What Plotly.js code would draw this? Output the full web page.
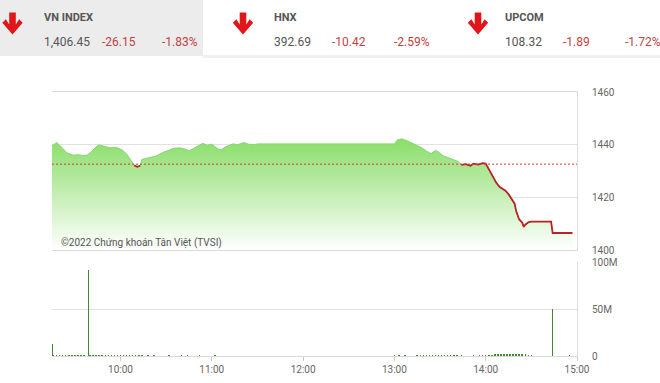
<!DOCTYPE html>
<html>
<head>
<meta charset="utf-8">
<script src="https://cdn.plot.ly/plotly-3.0.1.min.js"></script>
<style>
  html, body { margin: 0; padding: 0; background: #fff; }
  #chart { width: 660px; height: 383px; }
</style>
</head>
<body>
<div id="chart"></div>
<script>
// ---------------- DATA ----------------
const DATE = '2022-04-14';
const REF_CLOSE = 1432.6;

const indexNames = ['VN INDEX', 'HNX', 'UPCOM'];
const indexValues = ['1,406.45', '392.69', '108.32'];
const indexChanges = ['-26.15', '-10.42', '-1.89'];
const indexPercents = ['-1.83%', '-2.59%', '-1.72%'];

const priceTimes = [
  '09:15','09:16','09:18','09:20','09:23','09:25','09:29','09:32','09:35','09:38',
  '09:41','09:44','09:46','09:49','09:53','09:57','10:01','10:04','10:07','10:09',
  '10:11','10:13','10:14','10:18','10:23','10:27','10:31','10:35','10:39','10:43',
  '10:45','10:49','10:54','10:57','11:00','11:04','11:06','11:09','11:14','11:17',
  '11:21','11:24','11:28','11:30','13:00','13:02','13:05','13:08','13:13','13:18',
  '13:21','13:24','13:27','13:29','13:32','13:36','13:40','13:42','13:44','13:47',
  '13:50','13:52','13:55','13:58','14:00','14:02','14:04','14:07','14:09','14:11',
  '14:13','14:15','14:17','14:19','14:20','14:21','14:22','14:24','14:25','14:26',
  '14:28','14:30','14:43','14:44','14:57'
];
const priceValues = [
  1439.5,1440.0,1440.8,1439.8,1438.0,1436.8,1436.0,1436.2,1435.9,1436.0,
  1437.4,1439.2,1439.9,1439.4,1438.8,1439.0,1438.0,1436.5,1434.0,1432.2,
  1431.6,1432.0,1434.4,1435.0,1435.6,1436.8,1437.8,1438.6,1438.8,1438.2,
  1437.6,1439.0,1440.5,1439.8,1440.2,1438.4,1438.0,1439.2,1440.3,1440.0,
  1440.8,1440.2,1440.0,1440.3,1440.3,1441.8,1442.2,1441.6,1440.2,1438.8,
  1437.6,1436.6,1437.8,1437.2,1435.8,1434.9,1434.2,1433.6,1432.3,1432.6,
  1432.0,1432.8,1432.4,1433.0,1432.8,1430.6,1428.5,1425.5,1424.0,1423.4,
  1422.5,1421.2,1419.5,1417.6,1414.8,1413.0,1411.6,1410.4,1408.8,1409.6,
  1410.5,1410.8,1410.8,1406.45,1406.45
];

const volTimes = [
  '09:15','09:16','09:18','09:20','09:22','09:24','09:26','09:28','09:30','09:32',
  '09:34','09:36','09:39','09:40','09:42','09:44','09:46','09:48','09:50','09:52',
  '09:54','09:56','09:58','10:00','10:02','10:04','10:06','10:08','10:10','10:12',
  '10:14','10:18','10:22','10:27','10:32','10:36','10:40','10:44','10:48','10:52',
  '10:57','11:02','11:07','11:14','11:22','11:28','13:00','13:03','13:07','13:11',
  '13:15','13:17','13:19','13:21','13:23','13:25','13:27','13:29','13:31','13:33',
  '13:35','13:37','13:39','13:41','13:44','13:47','13:52','13:56','13:58','14:00',
  '14:02','14:04','14:06','14:08','14:10','14:12','14:14','14:16','14:18','14:20',
  '14:22','14:24','14:26','14:28','14:30','14:44','14:53','14:55'
];
const volValuesM = [
  12.5,1.5,1.2,1.0,1.3,0.9,1.1,0.8,1.0,0.9,
  0.7,0.8,91.5,1.0,0.8,0.6,0.9,0.7,0.8,1.0,
  0.9,1.1,0.8,1.2,1.0,1.3,1.4,1.6,1.5,1.2,
  0.9,0.6,0.7,0.5,0.6,0.5,0.7,0.6,0.5,0.6,
  0.5,0.6,0.4,0.5,0.4,0.5,0.8,0.6,0.7,0.5,
  0.9,0.8,1.0,0.9,1.1,1.0,1.2,0.9,1.1,1.0,
  0.8,1.0,0.9,0.8,0.6,0.5,0.6,1.0,1.2,1.4,
  1.6,1.5,1.8,2.2,2.0,2.6,2.4,2.0,2.2,1.9,
  2.3,2.1,1.8,1.6,1.2,50.0,0.5,0.6
];

const priceTickVals = [1400, 1420, 1440, 1460];
const volTickVals = [0, 50, 100];
const volTickText = ['0', '50M', '100M'];

// ---------------- HELPERS ----------------
const W = 660, H = 383;
const px = x => x / W;
const py = y => 1 - y / H;

const priceX = priceTimes.map(t => DATE + ' ' + t);
const redY = priceValues.map(v => (v <= REF_CLOSE + 0.5 ? v : null));
const volX = volTimes.map(t => DATE + ' ' + t);
const volY = volValuesM.map(v => v * 1e6);

function arrowPath(cx) {
  const pts = [
    [cx - 3.3, 12.5], [cx + 3.3, 12.5], [cx + 3.3, 24.5], [cx + 6.6, 19.2],
    [cx + 10.2, 22.8], [cx, 34.5], [cx - 10.2, 22.8], [cx - 6.6, 19.2], [cx - 3.3, 24.5]
  ];
  return 'M' + pts.map(p => px(p[0]).toFixed(5) + ',' + py(p[1]).toFixed(5)).join(' L') + ' Z';
}

// ---------------- TRACES ----------------
const traces = [
  {
    type: 'scatter', mode: 'lines', x: priceX, y: priceValues,
    xaxis: 'x', yaxis: 'y',
    line: { color: '#86d672', width: 1 },
    fill: 'tozeroy',
    fillgradient: {
      type: 'vertical', start: 1400, stop: 1442,
      colorscale: [[0, 'rgb(255,255,255)'], [1, 'rgb(138,222,106)']]
    },
    hoverinfo: 'skip'
  },
  {
    type: 'scatter', mode: 'lines', x: priceX, y: redY,
    xaxis: 'x', yaxis: 'y',
    line: { color: '#bb2228', width: 1.8 },
    connectgaps: false, hoverinfo: 'skip'
  },
  {
    type: 'bar', x: volX, y: volY, xaxis: 'x2', yaxis: 'y2',
    width: 60000,
    marker: { color: '#3f8a2e', line: { width: 0 } },
    hoverinfo: 'skip'
  }
];

// ---------------- LAYOUT ----------------
const xDomain = [px(52), px(577)];
const gridCol = '#e2e2e2';
const lineCol = '#dcdcdc';
const tickFont = { family: 'Roboto', size: 10, color: '#666' };

const shapes = [
  { type: 'rect', xref: 'paper', yref: 'paper', x0: 0, x1: px(203), y0: py(56), y1: 1,
    fillcolor: '#ececec', line: { width: 0 }, layer: 'below' },
  { type: 'rect', xref: 'paper', yref: 'paper', x0: px(203), x1: 1, y0: py(58), y1: py(55),
    fillcolor: '#f0f0f0', line: { width: 0 }, layer: 'below' },
  { type: 'line', xref: 'x domain', yref: 'y', x0: 0, x1: 1, y0: REF_CLOSE, y1: REF_CLOSE,
    line: { color: '#d23c3c', width: 1, dash: '2px,2px' } }
];
[12.5, 243, 478].forEach(cx => {
  shapes.push({ type: 'path', xref: 'paper', yref: 'paper', path: arrowPath(cx),
    fillcolor: '#e0161b', line: { width: 0 } });
});

const nameX = [43, 273, 504];
const changeX = [101, 331, 562];
const pctX = [161, 393, 624];
const annotations = [];
indexNames.forEach((n, i) => {
  annotations.push({ xref: 'paper', yref: 'paper', x: px(nameX[i] - 1), y: py(17), xanchor: 'left', yanchor: 'middle',
    text: '<b>' + n + '</b>', showarrow: false, font: { family: 'Roboto', size: 11, color: '#555' } });
  annotations.push({ xref: 'paper', yref: 'paper', x: px(nameX[i] - 1), y: py(42), xanchor: 'left', yanchor: 'middle',
    text: indexValues[i], showarrow: false, font: { family: 'Roboto', size: 12, color: '#555' } });
  annotations.push({ xref: 'paper', yref: 'paper', x: px(changeX[i] - 1), y: py(42), xanchor: 'left', yanchor: 'middle',
    text: indexChanges[i], showarrow: false, font: { family: 'Roboto', size: 12, color: '#c4413f' } });
  annotations.push({ xref: 'paper', yref: 'paper', x: px(pctX[i] - 1), y: py(42), xanchor: 'left', yanchor: 'middle',
    text: indexPercents[i], showarrow: false, font: { family: 'Roboto', size: 12, color: '#c4413f' } });
});
annotations.push({ xref: 'paper', yref: 'paper', x: px(59), y: py(242.5), xanchor: 'left', yanchor: 'middle',
  text: '©2022 Chứng khoán Tân Việt (TVSI)', showarrow: false,
  font: { family: 'Roboto', size: 10, color: '#555' } });

const layout = {
  width: W, height: H,
  margin: { l: 0, r: 0, t: 0, b: 0 },
  paper_bgcolor: '#ffffff', plot_bgcolor: '#ffffff',
  showlegend: false,
  font: { family: 'Roboto', size: 10, color: '#666' },
  bargap: 0,
  xaxis: {
    domain: xDomain, anchor: 'y', type: 'date',
    range: [DATE + ' 09:15', DATE + ' 15:00'],
    showticklabels: false, showgrid: false, ticks: '',
    showline: true, mirror: true, linecolor: lineCol, linewidth: 1,
    zeroline: false, fixedrange: true
  },
  yaxis: {
    domain: [py(250), py(92)], anchor: 'x', range: [1400, 1460], side: 'right',
    tickmode: 'array', tickvals: priceTickVals,
    showgrid: true, gridcolor: gridCol, gridwidth: 1,
    showline: true, linecolor: lineCol, ticks: '', ticklabelstandoff: 12,
    tickfont: tickFont, zeroline: false, fixedrange: true
  },
  xaxis2: {
    domain: xDomain, anchor: 'y2', type: 'date', matches: 'x',
    tickformat: '%H:%M', dtick: 3600000, tick0: DATE + ' 10:00',
    ticks: 'outside', ticklen: 4, tickcolor: '#cccccc',
    showgrid: false, showline: true, linecolor: lineCol, linewidth: 1,
    tickfont: tickFont, zeroline: false, fixedrange: true
  },
  yaxis2: {
    domain: [py(356), py(262)], anchor: 'x2', range: [0, 100e6], side: 'right',
    tickmode: 'array', tickvals: volTickVals.map(v => v * 1e6), ticktext: volTickText,
    showgrid: true, gridcolor: gridCol, gridwidth: 1,
    showline: true, linecolor: lineCol, ticks: '', ticklabelstandoff: 12,
    tickfont: tickFont, zeroline: false, fixedrange: true
  },
  shapes: shapes,
  annotations: annotations
};

Plotly.newPlot('chart', traces, layout, { staticPlot: true, displayModeBar: false });
</script>
</body>
</html>
